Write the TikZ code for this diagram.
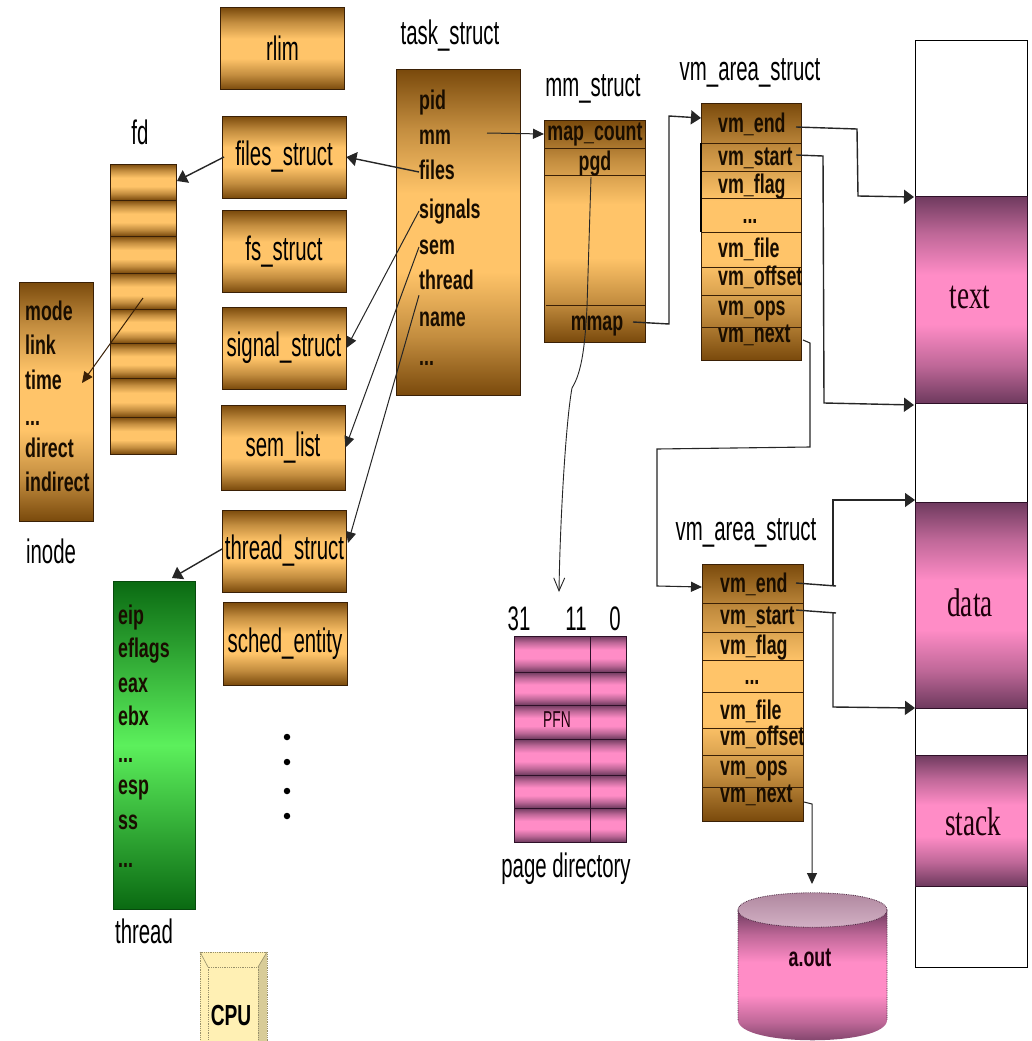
\documentclass[tikz,border=0pt]{standalone}
\usepackage{fontspec}
\setmainfont{Liberation Sans}
\newfontfamily\nar[FakeStretch=0.6]{Liberation Sans}
\newfontfamily\bnar[FakeStretch=0.66]{Liberation Sans}
\newfontfamily\ser[FakeStretch=0.68]{Liberation Serif}
\usetikzlibrary{arrows.meta}
\definecolor{odark}{HTML}{7A4A0C}
\definecolor{omid}{HTML}{FFC469}
\definecolor{oline}{HTML}{3A2006}
\definecolor{pdark}{HTML}{6E3A5E}
\definecolor{pmid}{HTML}{FF8CC6}
\definecolor{pline}{HTML}{2E1028}
\definecolor{gdark}{HTML}{0A6A12}
\definecolor{gmid}{HTML}{5CF05C}
\definecolor{cpufill}{HTML}{FFF0B4}
\definecolor{cpuside}{HTML}{D8CC98}
\definecolor{cyltop}{HTML}{C898B4}
\pgfdeclareverticalshading{oshade}{100bp}{color(0bp)=(odark); color(25bp)=(odark); color(34bp)=(odark!45!omid); color(44bp)=(omid); color(56bp)=(omid); color(66bp)=(odark!45!omid); color(75bp)=(odark); color(100bp)=(odark)}
\pgfdeclareverticalshading{pshade}{100bp}{color(0bp)=(pdark); color(25bp)=(pdark); color(34bp)=(pdark!45!pmid); color(44bp)=(pmid); color(56bp)=(pmid); color(66bp)=(pdark!45!pmid); color(75bp)=(pdark); color(100bp)=(pdark)}
\tikzset{
  lab/.style={font=\nar\fontsize{34}{36}\selectfont,inner sep=0pt,text=black},
  fld/.style={font=\bnar\bfseries\fontsize{27}{29}\selectfont,inner sep=0pt,text height=20pt,text depth=6pt,text=black!90!orange},
  ofill/.style={shading=oshade,draw=oline,line width=1pt},
  pfill/.style={shading=pshade,draw=pline,line width=1pt},
  gfill/.style={shade,top color=gdark,bottom color=gdark,middle color=gmid,draw=gdark!70!black,line width=1pt},
  obox/.style={ofill,lab,rectangle,minimum width=124pt,minimum height=82pt,anchor=center},
  sep/.style={draw=oline,line width=0.9pt},
  conn/.style={draw=black!85,line width=1.4pt,-{Triangle[length=10pt,width=14pt]}},
  thin conn/.style={draw=black!85,line width=1pt,-{Triangle[length=11pt,width=10pt]}},
  memlab/.style={font=\ser\fontsize{40}{42}\selectfont,inner sep=0pt,text=black!85!purple},
  dotn/.style={circle,fill=black,inner sep=0pt,minimum size=6.5pt}
}
\begin{document}
\begin{tikzpicture}[x=1pt,y=-1pt]
\clip (0,0) rectangle (1032,1041);
\fill[white] (0,0) rectangle (1032,1041);

% column of structs
\node[obox] (rlim) at (282.5,48.5) {rlim};
\node[obox] (files) at (284,157) {files\_struct};
\node[obox] (fs) at (284,251.5) {fs\_struct};
\node[obox] (signal) at (284,348) {signal\_struct};
\node[obox,minimum height=85pt] (semlist) at (283,447.5) {sem\_list};
\node[obox] (threads) at (284.5,551) {thread\_struct};
\node[obox,minimum height=83pt] (sched) at (285,643.5) {sched\_entity};

% task_struct
\node[lab] (tasklab) at (450,36) {task\_struct};
\path[ofill] (396,70) rectangle (520,395);
\node[fld,anchor=west] (tpid) at (419,102) {pid};
\node[fld,anchor=west] (tmm) at (419,137) {mm};
\node[fld,anchor=west] (tfiles) at (419,172) {files};
\node[fld,anchor=west] (tsignals) at (419,211) {signals};
\node[fld,anchor=west] (tsem) at (419,247) {sem};
\node[fld,anchor=west] (tthread) at (419,282) {thread};
\node[fld,anchor=west] (tname) at (419,319) {name};
\node[fld,anchor=west] (tdots) at (419,358) {...};

% fd
\node[lab] (fdlab) at (140,132) {fd};
\foreach \a/\b in {164/200,200/236,236/273,273/309,309/343,343/378,378/417,417/454}
  \path[ofill] (110,\a) rectangle (176,\b);

% inode
\path[ofill] (19,282) rectangle (93,521);
\node[fld,anchor=west] (imode) at (25,313) {mode};
\node[fld,anchor=west] (ilink) at (25,347) {link};
\node[fld,anchor=west] (itime) at (25,382) {time};
\node[fld,anchor=west] (idots) at (25,418) {...};
\node[fld,anchor=west] (idirect) at (25,450) {direct};
\node[fld,anchor=west] (iindirect) at (25,484) {indirect};
\node[lab] (inodelab) at (51,551) {inode};

% thread
\path[gfill] (113,581) rectangle (195,909);
\node[fld,anchor=west] (xeip) at (118,617) {eip};
\node[fld,anchor=west] (xefl) at (118,650) {eflags};
\node[fld,anchor=west] (xeax) at (118,685) {eax};
\node[fld,anchor=west] (xebx) at (118,718) {ebx};
\node[fld,anchor=west] (xd1) at (118,755) {...};
\node[fld,anchor=west] (xesp) at (118,787) {esp};
\node[fld,anchor=west] (xss) at (118,822) {ss};
\node[fld,anchor=west] (xd2) at (118,860) {...};
\node[lab] (threadlab) at (144,931) {thread};

% dots
\node[dotn] (d1) at (287,737) {};
\node[dotn] (d2) at (287,762) {};
\node[dotn] (d3) at (287,791) {};
\node[dotn] (d4) at (287,816) {};

% CPU
\fill[cpufill] (200,952) rectangle (267,1045);
\fill[cpuside] (258,967) -- (267,952) -- (267,1045) -- (258,1045) -- cycle;
\draw[cpuside!70!black,densely dotted,line width=0.8pt] (200,1045) -- (200,952) -- (267,952) -- (267,1045);
\draw[cpuside!70!black,densely dotted,line width=0.8pt] (208,1045) -- (208,967) -- (258,967) -- (258,1045);
\draw[cpuside!70!black,line width=0.6pt] (200,952) -- (208,967) (267,952) -- (258,967);
\node[font=\bnar\bfseries\fontsize{29}{31}\selectfont,inner sep=0pt] (cpu) at (231,1016) {CPU};

% mm_struct
\node[lab] (mmlab) at (593,89) {mm\_struct};
\path[ofill] (544,120) rectangle (645,342);
\draw[sep] (544,148) -- (645,148) (544,175) -- (645,175) (546,305) -- (645,305);
\node[fld] (mmapc) at (595,133) {map\_count};
\node[fld] (mpgd) at (595,163) {pgd};
\node[fld] (mmap) at (597,323) {mmap};

% vm_area 1
\node[lab] (vm1lab) at (750,73) {vm\_area\_struct};
\path[ofill] (701,103) rectangle (801,360);
\draw[sep] (701,143) -- (801,143) (701,171) -- (801,171) (701,198) -- (801,198) (701,232) -- (801,232) (701,267) -- (801,267) (701,295) -- (801,295) (701,327) -- (801,327);
\draw[black,line width=1.2pt] (701,143) -- (701,232);
\node[fld,anchor=west] (aend) at (718,125) {vm\_end};
\node[fld,anchor=west] (astart) at (718,158) {vm\_start};
\node[fld,anchor=west] (aflag) at (718,186) {vm\_flag};
\node[fld] (adots) at (750,216) {...};
\node[fld,anchor=west] (afile) at (718,250) {vm\_file};
\node[fld,anchor=west] (aoffset) at (718,278) {vm\_offset};
\node[fld,anchor=west] (aops) at (718,308) {vm\_ops};
\node[fld,anchor=west] (anext) at (718,335) {vm\_next};

% vm_area 2
\node[lab] (vm2lab) at (746,533) {vm\_area\_struct};
\path[ofill] (702,564) rectangle (803,821);
\draw[sep] (702,603) -- (803,603) (702,632) -- (803,632) (702,660) -- (803,660) (702,692) -- (803,692) (702,728) -- (803,728) (702,755) -- (803,755) (702,787) -- (803,787);
\node[fld,anchor=west] (bend) at (720,585) {vm\_end};
\node[fld,anchor=west] (bstart) at (720,617) {vm\_start};
\node[fld,anchor=west] (bflag) at (720,647) {vm\_flag};
\node[fld] (bdots) at (752,677) {...};
\node[fld,anchor=west] (bfile) at (720,712) {vm\_file};
\node[fld,anchor=west] (boffset) at (720,738) {vm\_offset};
\node[fld,anchor=west] (bops) at (720,768) {vm\_ops};
\node[fld,anchor=west] (bnext) at (720,795) {vm\_next};

% page directory
\node[lab] (b31) at (519,619) {31};
\node[lab] (b11) at (576,619) {11};
\node[lab] (b0) at (615,619) {0};
\foreach \a/\b in {636/672,672/705,705/739,739/775,775/808,808/842}{
  \path[pfill] (514,\a) rectangle (590,\b);
  \path[pfill] (590,\a) rectangle (626,\b);
}
\node[font=\nar\fontsize{23}{25}\selectfont,inner sep=0pt,text=black!85!purple] (pfn) at (557,720) {PFN};
\node[lab] (pdlab) at (566,869) {page directory};

% memory map
\draw[black,line width=1pt] (915,41) rectangle (1027,967);
\path[pfill] (915,196) rectangle (1027,403);
\path[pfill] (915,502) rectangle (1027,708);
\path[pfill] (915,755) rectangle (1027,886);
\node[memlab] (mtext) at (970,297) {text};
\node[memlab] (mdata) at (970,603) {data};
\node[memlab] (mstack) at (973,822) {stack};

% a.out cylinder
\path[shading=pshade]
  (738,910) -- (738,1020) .. controls (738,1047) and (887,1047) .. (887,1020) -- (887,910) -- cycle;
\path[shade,top color=cyltop!85!black,bottom color=cyltop!70!white] (738,910) .. controls (738,887) and (887,887) .. (887,910)
  .. controls (887,933) and (738,933) .. (738,910) -- cycle;
\draw[pdark!70!black,densely dotted,line width=0.8pt] (738,1020) -- (738,910) .. controls (738,887) and (887,887) .. (887,910) -- (887,1020);
\draw[pdark!70!black,densely dotted,line width=0.8pt] (738,910) .. controls (738,933) and (887,933) .. (887,910);
\node[font=\bnar\bfseries\fontsize{27}{29}\selectfont,inner sep=0pt,text=black!85!purple] (aout) at (810,958) {a.out};

% anchors for free ends
\coordinate (cmm) at (487,133);
\coordinate (mmin) at (544,134);
\coordinate (fdin) at (177,181);
\coordinate (fout) at (224,157);
\coordinate (fdout) at (143,298);
\coordinate (inodein) at (82,383);
\coordinate (thin) at (172,578);
\coordinate (thout) at (222,549);
\coordinate (thin2) at (348,543);
\coordinate (mmout) at (633,322);
\coordinate (a1in) at (701,118);
\coordinate (aendo) at (796,127);
\coordinate (astarto) at (796,155);
\coordinate (anexto) at (803,340);
\coordinate (textt) at (914,197);
\coordinate (textb) at (914,405);
\coordinate (a2in) at (702,587);
\coordinate (bendo) at (796,583);
\coordinate (bstarto) at (796,610);
\coordinate (bnexto) at (804,802);
\coordinate (datat) at (915,500);
\coordinate (datab) at (915,708);
\coordinate (aouttop) at (812,884);
\coordinate (pgdo) at (591,177);
\coordinate (pdin) at (559,592);

% connectors
\draw[thin conn] (cmm) -- (mmin);
\draw[conn] (tfiles.west) -- (files.east);
\draw[conn] (fout) -- (fdin);
\draw[thin conn] (tsignals.west) -- (signal.east);
\draw[thin conn] (tsem.west) -- (semlist.east);
\draw[thin conn] (tthread.south west) -- (thin2);
\draw[conn] (thout) -- (thin);
\draw[thin conn,draw=oline] (fdout) -- (inodein);
\draw[conn] (mmout) -- (669,324) -- (669,116) -- (a1in);
\draw[conn] (aendo) -- (857,129) -- (858,196) -- (textt);
\draw[conn] (astarto) -- (823,156) -- (824,403) -- (textb);
\draw[thin conn,line width=1.1pt] (anexto) -- (810,343) -- (810,447) -- (657,449) -- (657,586) -- (a2in);
\draw[draw=black!85,line width=1.4pt] (bendo) -- (836,586);
\draw[conn] (833,586) -- (833,500) -- (datat);
\draw[draw=black!85,line width=1.4pt] (bstarto) -- (836,613);
\draw[conn] (833,613) -- (833,707) -- (datab);
\draw[thin conn] (bnexto) -- (812,804) -- (aouttop);
\draw[draw=black!85,line width=0.9pt,-{Straight Barb[length=13pt,width=11pt]}] (pgdo) -- (587,307)
  .. controls (585,345) and (582,372) .. (572,388)
  .. controls (566,420) and (560,520) .. (pdin);
\end{tikzpicture}
\end{document}
